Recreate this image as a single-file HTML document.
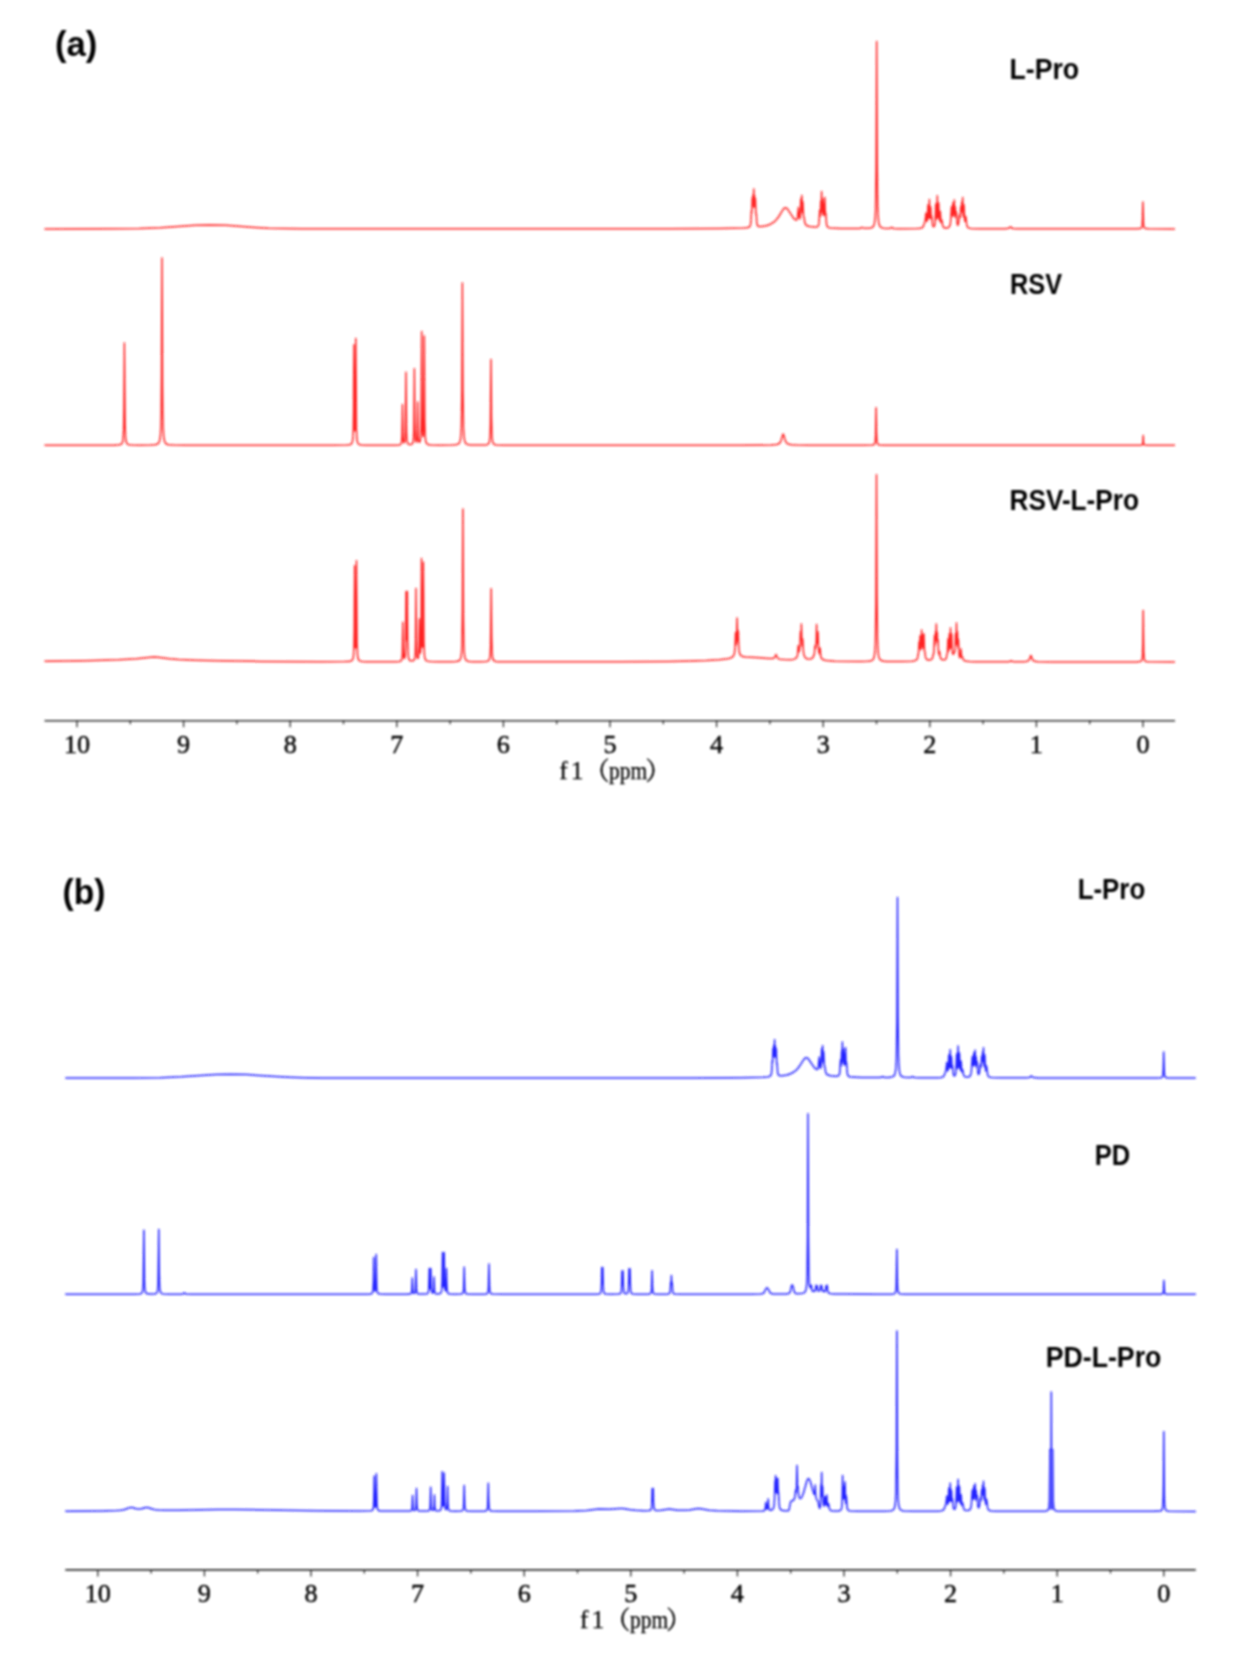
<!DOCTYPE html>
<html><head><meta charset="utf-8"><title>NMR spectra</title>
<style>
html,body{margin:0;padding:0;background:#fff;width:1251px;height:1654px;overflow:hidden}
svg{display:block}

path{fill:none;stroke-width:1.5;stroke-linejoin:round}

.ax{stroke:#303030;stroke-width:1.6}
.tk{stroke:#383838;stroke-width:1.4}
.tl{font-family:"Liberation Serif","Noto Serif CJK SC",serif;font-size:26.2px;text-anchor:middle;fill:#000;stroke:#000;stroke-width:0.45}
.xl{font-family:"Liberation Serif","Noto Serif CJK SC",serif;font-size:25.6px;fill:#000;stroke:#000;stroke-width:0.25}
.f1{letter-spacing:3px}
.pp{font-size:25px}
.cjk{font-family:"Liberation Serif","Noto Serif CJK SC",serif;font-size:25px;fill:#000;stroke:#000;stroke-width:0.5}
.lb{font-family:"Liberation Sans","Noto Sans CJK SC",sans-serif;font-weight:bold;font-size:29px;fill:#000}
</style></head><body>
<div id="wrap"><svg width="1251" height="1654" viewBox="0 0 1251 1654">
<rect width="1251" height="1654" fill="#fff"/>
<defs><filter id="bl" filterUnits="userSpaceOnUse" x="0" y="0" width="1251" height="1654"><feGaussianBlur stdDeviation="0.8"/></filter></defs>
<g filter="url(#bl)"><g transform="translate(0.5,0.5)">
<path d="M44.00,228.40 112.10,228.36 138.94,228.04 159.82,227.20 194.70,224.80 209.18,224.40 225.50,224.87 254.58,226.91 268.10,227.65 282.90,228.11 301.10,228.33 668.28,228.30 719.32,228.07 742.44,227.55 746.12,227.24 748.16,226.79 749.30,226.04 749.96,224.71 750.46,220.96 750.90,210.40 751.18,212.56 751.30,211.74 751.70,197.40 752.06,206.49 752.50,194.40 752.92,203.44 753.30,188.60 753.74,206.53 754.18,195.48 754.60,207.11 755.00,198.40 755.40,212.92 755.54,214.23 755.74,213.25 755.82,213.59 756.32,222.41 756.88,224.85 757.36,225.50 758.08,225.90 759.28,226.09 761.04,226.03 765.64,225.22 769.40,223.94 772.56,222.18 774.56,220.55 776.44,218.53 778.44,215.75 782.52,209.12 783.68,207.83 784.72,207.29 785.80,207.46 786.92,208.39 792.68,217.12 794.40,218.94 795.68,219.54 796.10,219.40 796.44,218.97 796.94,217.25 797.90,206.90 798.68,216.17 798.98,217.90 799.30,218.35 799.62,217.17 799.84,214.33 800.30,198.40 800.64,208.58 800.74,209.91 800.86,209.56 801.30,194.90 801.82,212.17 801.88,212.44 801.94,212.31 802.04,211.17 802.40,201.40 802.94,215.53 803.10,216.30 803.40,216.22 803.54,216.55 804.22,221.54 804.84,223.64 805.40,224.44 806.22,225.06 809.04,225.97 814.20,226.56 815.92,226.47 817.04,226.13 817.94,225.08 818.46,222.90 819.20,209.70 819.60,215.33 819.70,215.81 819.80,215.41 820.30,200.40 820.58,206.32 820.66,206.79 820.72,206.20 821.10,191.00 821.64,212.34 821.86,210.32 822.20,198.40 822.70,214.59 822.82,214.89 822.94,213.56 823.30,203.40 823.80,213.34 824.30,197.10 824.80,214.80 824.88,215.32 824.96,215.19 825.30,212.40 826.00,223.50 826.48,225.54 827.28,226.62 828.50,227.16 830.56,227.48 840.16,227.88 857.98,227.96 859.94,227.71 861.50,226.90 862.88,227.62 864.18,227.84 867.44,227.80 870.12,227.46 871.50,227.00 872.50,226.28 873.24,225.23 873.80,223.73 874.60,218.45 875.08,209.32 875.64,170.21 876.20,40.90 876.72,164.12 877.16,203.41 877.56,214.97 878.12,221.33 878.52,223.44 879.04,225.00 879.68,226.06 880.56,226.84 881.60,227.32 882.96,227.64 887.24,227.95 889.52,227.77 891.24,226.90 892.44,227.66 893.40,227.95 898.88,228.18 916.60,228.06 919.84,227.78 921.60,227.22 922.30,226.64 922.86,225.76 924.54,221.10 925.48,212.41 926.22,219.82 926.46,220.83 926.68,220.61 927.04,216.74 927.50,204.40 927.96,215.88 928.26,217.86 928.52,214.15 928.90,199.10 929.48,217.20 929.54,217.44 929.62,217.33 929.76,215.99 930.20,206.40 930.78,218.14 930.86,218.42 930.94,218.29 931.30,215.90 932.04,224.54 932.58,225.91 932.96,226.16 933.38,226.11 933.80,225.68 934.14,224.85 934.60,221.78 935.30,203.40 935.80,216.54 935.98,218.29 936.08,218.38 936.18,217.86 936.80,195.30 937.18,212.66 937.44,217.02 937.52,217.13 937.60,216.77 937.74,214.96 938.20,202.40 938.68,216.55 939.00,220.13 939.08,220.28 939.16,220.17 939.32,219.12 939.80,211.10 940.52,221.84 940.64,222.12 940.80,222.00 941.40,219.70 942.08,224.19 942.56,225.97 943.32,226.98 944.64,227.45 946.50,227.44 947.92,227.02 948.84,226.21 949.44,224.92 949.88,222.87 950.20,219.95 950.98,206.26 951.62,214.31 951.78,215.20 951.92,214.84 952.50,202.40 952.94,213.97 953.22,216.02 953.80,199.60 954.28,213.27 954.80,206.40 955.32,216.36 955.42,216.64 955.52,216.16 955.90,211.60 956.58,222.71 957.04,224.47 957.34,224.67 957.66,224.37 958.26,221.88 958.98,214.46 959.14,214.62 959.52,216.98 959.64,217.06 959.74,216.63 960.30,206.20 960.66,211.55 960.74,212.04 960.82,211.84 961.30,201.40 961.78,209.08 962.20,197.00 962.56,212.11 962.82,216.21 963.08,214.34 963.50,204.40 963.96,216.77 964.32,220.61 964.48,220.83 964.66,220.32 965.30,215.90 966.06,223.20 966.66,225.84 967.14,226.70 967.78,227.26 970.00,227.90 979.50,228.26 1004.92,228.24 1007.96,227.85 1010.00,226.40 1011.44,227.55 1012.44,227.97 1017.50,228.31 1128.00,228.37 1136.50,228.32 1139.40,228.12 1140.40,227.79 1141.00,227.20 1141.40,226.16 1141.68,224.39 1142.00,218.67 1142.40,201.40 1143.00,222.99 1143.40,226.16 1143.72,227.06 1144.16,227.63 1145.36,228.11 1148.00,228.31 1174.50,228.39" stroke="#ff2020"/>
<path d="M44.00,444.80 113.50,444.68 119.00,444.30 120.50,443.79 121.30,443.09 122.06,441.46 122.54,438.85 123.14,427.95 123.46,406.93 123.90,342.60 124.58,424.58 125.02,436.27 125.38,439.73 125.86,441.84 126.82,443.43 127.50,443.89 128.50,444.23 132.00,444.59 139.00,444.70 149.50,444.60 154.50,444.25 157.00,443.50 158.00,442.66 158.50,441.91 159.38,439.11 159.98,434.05 160.38,425.92 160.66,413.68 161.02,373.84 161.50,257.60 162.06,386.84 162.30,411.07 162.66,427.08 163.18,435.91 164.00,440.67 164.50,441.91 165.50,443.16 166.50,443.75 168.00,444.17 173.50,444.61 186.00,444.75 331.00,444.77 346.00,444.58 349.00,444.26 350.40,443.74 351.40,442.65 352.04,440.57 352.44,437.06 352.72,430.93 353.04,409.19 353.40,344.30 353.88,418.64 354.18,429.30 354.38,430.28 354.58,427.82 354.94,405.54 355.30,337.90 355.90,426.84 356.38,438.17 356.82,441.17 357.46,442.85 358.26,443.68 359.50,444.19 361.50,444.49 365.50,444.67 394.50,444.65 398.50,444.40 399.48,444.15 400.12,443.77 400.64,443.05 401.00,441.87 401.44,437.14 402.00,404.00 402.56,436.86 403.02,441.38 403.40,442.19 403.64,442.25 403.88,442.04 404.30,440.83 404.60,438.56 404.98,429.59 405.50,371.80 405.90,422.59 406.10,432.79 406.42,439.00 406.94,442.14 407.30,442.96 407.82,443.54 409.00,443.98 410.00,444.00 411.14,443.71 411.90,443.10 412.46,441.92 412.86,439.79 413.34,430.60 413.90,368.20 414.30,421.23 414.74,437.20 415.10,440.29 415.64,441.51 415.94,441.33 416.18,440.68 416.54,437.74 416.84,428.96 417.20,401.50 417.76,435.95 418.20,440.65 418.56,441.62 419.00,441.77 419.64,440.59 420.08,437.88 420.60,425.62 421.20,331.10 421.68,417.04 421.96,430.43 422.40,435.78 422.56,435.92 422.72,435.32 422.96,432.56 423.32,418.08 423.80,335.60 424.32,421.95 424.72,435.92 425.04,439.52 425.48,441.69 426.08,442.95 427.00,443.75 428.50,444.23 431.00,444.50 439.50,444.67 451.00,444.57 455.00,444.29 457.50,443.60 458.50,442.82 459.02,442.06 459.54,440.77 459.94,439.04 460.50,433.91 460.90,424.76 461.38,389.25 461.90,282.50 462.42,389.25 462.98,427.31 463.46,435.91 464.18,440.50 464.74,441.99 465.50,443.03 466.50,443.70 467.50,444.04 470.00,444.42 474.00,444.60 481.00,444.62 485.00,444.43 486.50,444.15 487.62,443.59 488.34,442.71 488.82,441.43 489.50,435.98 489.90,424.13 490.50,358.90 490.98,416.36 491.50,435.99 491.94,440.30 492.66,442.72 493.22,443.47 494.00,443.98 496.00,444.45 504.00,444.73 534.00,444.79 740.50,444.78 770.50,444.56 776.10,444.02 777.74,443.50 778.94,442.71 779.78,441.72 780.50,440.31 782.18,434.46 782.70,433.60 783.22,434.46 784.74,439.90 785.86,442.06 786.70,442.91 787.74,443.53 790.82,444.27 796.50,444.61 809.00,444.75 862.00,444.78 871.50,444.59 873.00,444.30 873.88,443.69 874.40,442.58 874.76,440.54 875.16,432.86 875.60,407.20 876.00,431.26 876.40,440.16 876.72,442.28 877.24,443.58 878.08,444.25 879.50,444.57 884.00,444.75 898.00,444.79 1139.70,444.75 1141.42,444.51 1142.06,443.73 1142.40,441.31 1142.70,435.10 1143.15,442.86 1143.49,444.07 1144.16,444.58 1148.00,444.78 1174.50,444.80" stroke="#ff2020"/>
<path d="M44.00,660.85 84.92,660.27 118.12,659.28 136.12,658.33 150.24,656.69 153.64,656.50 157.36,656.73 168.84,658.24 177.84,658.93 194.92,659.69 217.64,660.30 260.20,660.88 321.44,661.17 344.36,661.12 348.24,660.94 350.36,660.57 351.74,659.72 352.54,658.09 353.04,655.04 353.36,649.76 353.72,629.56 354.10,565.30 354.56,634.95 354.86,646.23 355.06,647.53 355.24,645.93 355.62,626.45 356.00,560.20 356.58,643.33 357.06,654.79 357.44,657.49 358.04,659.23 358.84,660.13 360.12,660.68 362.16,660.98 365.68,661.14 394.72,661.15 398.72,660.90 399.76,660.65 400.48,660.25 401.04,659.50 401.40,658.33 401.84,653.75 402.40,621.80 402.92,652.42 403.32,657.06 403.64,657.93 404.00,657.87 404.40,656.72 404.68,654.67 405.08,645.75 405.60,591.10 405.96,631.85 406.12,638.76 406.20,639.53 406.28,638.76 406.80,591.10 407.20,639.16 407.68,654.54 408.12,657.79 408.88,659.56 409.48,660.07 410.28,660.37 412.32,660.33 413.44,659.67 414.10,658.33 414.52,655.90 414.80,651.77 415.14,635.44 415.50,587.90 415.90,638.61 416.34,653.86 416.72,656.88 416.98,657.66 417.28,657.95 417.60,657.71 417.86,656.98 418.22,654.16 418.54,645.25 418.90,618.60 419.36,647.99 419.66,652.33 419.76,652.57 419.86,652.42 420.06,650.97 420.36,644.29 420.58,630.64 421.00,558.10 421.36,623.02 421.68,643.44 421.88,646.58 422.00,646.75 422.10,646.01 422.42,635.20 422.90,561.70 423.44,641.30 423.84,653.20 424.16,656.38 424.64,658.46 425.28,659.63 426.24,660.35 427.76,660.80 430.16,661.05 438.12,661.23 450.76,661.19 455.36,660.97 457.84,660.49 458.80,660.00 459.52,659.26 460.08,658.16 460.50,656.66 461.08,651.96 461.48,643.21 461.92,610.80 462.40,508.60 462.88,610.80 463.32,643.21 463.72,651.96 464.28,656.56 464.68,658.05 465.24,659.20 465.96,659.97 466.92,660.48 468.96,660.92 472.40,661.15 479.96,661.22 484.96,661.07 486.64,660.82 487.72,660.40 488.46,659.71 488.98,658.62 489.38,656.85 489.68,654.12 490.08,644.64 490.70,588.30 491.16,635.78 491.62,652.67 492.00,656.72 492.58,659.05 493.50,660.29 495.12,660.91 497.52,661.16 502.00,661.28 530.50,661.34 618.44,661.22 668.52,660.91 689.72,660.54 705.80,659.99 718.72,659.17 727.24,658.17 730.12,657.45 731.96,656.50 733.16,655.13 733.92,653.09 734.52,647.64 735.00,632.20 735.48,643.43 735.72,644.16 736.00,642.08 736.60,617.40 737.08,638.60 737.24,640.17 737.40,639.52 737.80,630.60 738.24,645.32 738.64,650.43 739.08,652.63 739.76,654.26 740.72,655.36 742.08,656.06 745.08,656.54 755.20,656.93 768.44,657.98 771.70,658.07 773.02,657.83 773.88,657.27 775.50,654.00 777.12,657.52 777.98,658.21 779.28,658.65 783.60,659.10 789.26,659.20 792.60,658.88 794.80,658.14 796.18,656.92 796.94,655.05 797.30,652.26 797.70,645.20 798.22,651.02 798.36,651.29 798.54,651.14 798.94,649.61 799.44,644.54 799.90,631.60 800.26,638.15 800.38,638.66 800.48,637.89 800.90,623.60 801.48,643.99 801.68,645.44 801.78,645.51 801.86,645.23 802.30,638.80 802.78,649.95 803.44,654.48 804.46,656.68 805.18,657.47 806.04,658.05 807.14,658.46 808.38,658.62 809.62,658.54 810.74,658.22 811.66,657.67 812.44,656.89 813.54,654.60 814.04,651.80 814.52,645.15 814.92,647.96 815.10,647.87 815.28,647.04 815.70,641.22 816.10,624.00 816.44,638.13 816.72,642.70 816.90,643.08 817.08,641.74 817.50,631.60 817.94,646.10 818.40,651.53 818.76,652.96 818.94,653.13 819.08,652.89 819.60,647.60 820.28,656.04 820.88,657.68 821.98,658.80 823.62,659.57 825.98,660.09 834.32,660.69 860.32,660.98 866.52,660.83 869.88,660.44 871.28,659.97 872.28,659.26 873.04,658.20 873.60,656.70 874.40,651.42 874.88,642.32 875.44,603.31 876.00,474.30 876.50,593.89 876.96,636.42 877.36,647.96 877.92,654.29 878.32,656.40 878.84,657.96 879.50,659.04 880.36,659.79 882.32,660.51 885.60,660.89 901.60,661.06 911.68,660.64 914.24,660.17 915.86,659.41 916.56,658.69 917.02,657.69 917.68,653.59 918.06,652.49 918.60,641.20 918.94,647.15 919.02,647.69 919.12,647.46 919.60,635.20 920.04,647.26 920.24,648.99 920.36,649.09 920.46,648.72 920.76,643.90 921.10,629.40 921.60,645.38 921.66,645.59 921.72,645.44 921.84,644.05 922.20,634.50 922.58,645.71 922.72,647.51 922.80,647.76 922.88,647.47 923.40,633.20 923.92,649.87 924.08,651.01 924.32,650.83 924.40,651.00 924.84,655.43 925.24,657.44 926.00,658.72 927.28,659.39 929.24,659.49 930.94,658.91 931.60,658.31 932.06,657.46 932.78,653.57 932.88,653.37 933.16,653.39 933.34,652.52 934.00,635.20 934.46,644.60 935.00,631.50 935.40,638.24 935.80,623.60 936.22,639.93 936.30,640.19 936.38,639.40 936.72,631.63 937.08,641.96 937.14,642.44 937.22,642.26 937.50,639.00 937.90,649.63 938.30,653.49 938.48,653.85 938.64,653.62 939.08,650.98 939.68,656.22 940.36,658.13 941.12,658.83 942.22,659.22 943.56,659.28 944.72,658.98 945.38,658.46 945.80,657.67 946.48,653.58 946.80,653.33 946.92,652.78 947.50,638.50 947.90,649.03 948.04,650.44 948.12,650.59 948.20,650.32 948.80,633.50 949.18,645.82 949.32,647.71 949.40,647.91 949.46,647.67 950.00,627.50 950.54,647.18 950.60,647.39 950.68,647.17 950.82,645.31 951.20,633.50 951.60,647.25 951.98,652.14 952.36,653.47 952.64,653.80 952.92,653.85 953.34,653.18 953.78,651.04 954.12,651.47 954.24,651.34 954.60,647.27 955.00,633.50 955.34,643.03 955.46,644.19 955.56,643.46 956.00,622.40 956.46,643.63 956.56,643.88 956.66,642.50 957.00,631.50 957.44,646.30 957.56,647.08 957.66,646.34 958.00,639.00 958.42,651.74 958.88,656.32 959.38,657.25 959.82,656.40 960.50,648.60 960.96,654.85 961.26,656.67 961.48,656.94 962.02,656.52 962.72,658.81 963.28,659.73 963.96,660.19 965.02,660.51 968.62,660.91 975.18,661.15 1004.00,661.33 1008.62,661.16 1010.70,660.30 1012.18,661.02 1013.74,661.25 1024.60,661.13 1026.88,660.73 1028.24,659.89 1029.00,658.69 1030.04,655.53 1030.40,655.00 1030.76,655.53 1031.84,658.78 1032.72,660.06 1034.32,660.86 1037.20,661.22 1052.00,661.40 1125.00,661.44 1136.00,661.38 1139.50,661.11 1140.62,660.65 1141.30,659.71 1141.74,657.87 1142.00,655.10 1142.34,643.56 1142.70,609.90 1143.22,650.99 1143.58,657.24 1143.86,658.95 1144.30,660.11 1144.78,660.65 1145.46,661.00 1148.00,661.33 1174.50,661.46" stroke="#ff2020"/>
<path d="M64.80,1077.50 132.90,1077.46 159.74,1077.16 180.62,1076.34 215.50,1074.03 229.98,1073.64 246.30,1074.10 275.38,1076.07 288.90,1076.77 303.70,1077.22 321.90,1077.43 689.08,1077.40 740.12,1077.19 763.24,1076.68 766.92,1076.38 768.96,1075.95 770.10,1075.23 770.76,1073.95 771.26,1070.33 771.70,1060.17 771.98,1062.24 772.10,1061.46 772.50,1047.65 772.86,1056.40 773.30,1044.76 773.72,1053.47 774.10,1039.17 774.54,1056.44 774.98,1045.80 775.40,1057.00 775.80,1048.61 776.20,1062.59 776.34,1063.85 776.54,1062.91 776.62,1063.24 777.12,1071.73 777.68,1074.08 778.16,1074.71 778.88,1075.09 780.08,1075.27 781.84,1075.22 786.44,1074.44 790.20,1073.21 793.36,1071.51 795.36,1069.94 797.24,1067.99 799.24,1065.32 803.32,1058.94 804.48,1057.69 805.52,1057.17 806.60,1057.34 807.72,1058.23 813.48,1066.64 815.20,1068.39 816.48,1068.97 816.90,1068.83 817.24,1068.42 817.74,1066.76 818.70,1056.79 819.48,1065.72 819.78,1067.39 820.10,1067.83 820.42,1066.69 820.64,1063.95 821.10,1048.61 821.44,1058.42 821.54,1059.69 821.66,1059.36 822.10,1045.24 822.62,1061.87 822.68,1062.13 822.74,1062.01 822.84,1060.91 823.20,1051.50 823.74,1065.11 823.90,1065.85 824.20,1065.77 824.34,1066.09 825.02,1070.90 825.64,1072.91 826.20,1073.69 827.02,1074.28 829.84,1075.16 835.00,1075.72 836.72,1075.64 837.84,1075.31 838.74,1074.30 839.26,1072.20 840.00,1059.49 840.40,1064.91 840.50,1065.38 840.60,1065.00 841.10,1050.54 841.38,1056.24 841.46,1056.69 841.52,1056.12 841.90,1041.48 842.44,1062.03 842.66,1060.09 843.00,1048.61 843.50,1064.21 843.62,1064.49 843.74,1063.21 844.10,1053.43 844.60,1063.00 845.10,1047.36 845.60,1064.41 845.76,1064.78 846.10,1062.09 846.80,1072.79 847.28,1074.75 848.08,1075.78 849.30,1076.30 851.36,1076.62 860.96,1077.00 878.78,1077.08 880.74,1076.83 882.30,1076.06 883.68,1076.75 884.98,1076.96 888.24,1076.93 890.92,1076.60 892.30,1076.15 893.30,1075.46 894.04,1074.45 894.60,1073.00 895.40,1067.91 895.88,1059.13 896.44,1021.47 897.00,896.94 897.52,1015.60 897.96,1053.44 898.36,1064.57 898.92,1070.69 899.32,1072.73 899.84,1074.23 900.48,1075.25 901.36,1076.00 903.76,1076.77 908.04,1077.07 910.32,1076.90 912.04,1076.06 913.24,1076.79 914.20,1077.07 919.68,1077.29 937.40,1077.18 940.64,1076.91 942.40,1076.36 943.10,1075.81 943.66,1074.96 945.34,1070.47 946.28,1062.10 947.02,1069.23 947.26,1070.21 947.48,1070.00 947.84,1066.27 948.30,1054.39 948.76,1065.44 949.06,1067.35 949.32,1063.77 949.70,1049.28 950.28,1066.72 950.34,1066.94 950.42,1066.84 950.56,1065.55 951.00,1056.31 951.58,1067.62 951.66,1067.89 951.74,1067.76 952.10,1065.46 952.84,1073.78 953.38,1075.10 953.76,1075.35 954.18,1075.29 954.60,1074.88 954.94,1074.08 955.40,1071.13 956.10,1053.43 956.60,1066.08 956.78,1067.76 956.88,1067.85 956.98,1067.35 957.60,1045.62 957.98,1062.34 958.24,1066.54 958.32,1066.65 958.40,1066.30 958.54,1064.56 959.00,1052.46 959.48,1066.09 959.80,1069.54 959.96,1069.58 960.12,1068.56 960.60,1060.84 961.32,1071.19 961.44,1071.46 961.60,1071.34 962.20,1069.12 962.88,1073.44 963.36,1075.16 964.12,1076.13 965.44,1076.58 967.30,1076.58 968.72,1076.17 969.64,1075.39 970.24,1074.15 970.68,1072.17 971.00,1069.36 971.78,1056.18 972.42,1063.93 972.58,1064.78 972.72,1064.44 973.30,1052.46 973.74,1063.60 974.02,1065.58 974.60,1049.77 975.08,1062.93 975.60,1056.31 976.12,1065.91 976.22,1066.17 976.32,1065.72 976.70,1061.32 977.38,1072.02 977.84,1073.72 978.14,1073.91 978.46,1073.62 979.06,1071.22 979.78,1064.07 979.94,1064.23 980.32,1066.50 980.44,1066.58 980.54,1066.17 981.10,1056.12 981.46,1061.28 981.54,1061.75 981.62,1061.55 982.10,1051.50 982.58,1058.89 983.00,1047.26 983.36,1061.82 983.62,1065.76 983.88,1063.96 984.30,1054.39 984.76,1066.30 985.12,1070.00 985.28,1070.21 985.46,1069.72 986.10,1065.46 986.86,1072.49 987.46,1075.04 987.94,1075.86 988.58,1076.40 990.80,1077.02 1000.30,1077.36 1025.72,1077.35 1028.76,1076.97 1030.80,1075.57 1032.24,1076.68 1033.24,1077.09 1038.30,1077.41 1148.80,1077.47 1157.30,1077.42 1160.20,1077.23 1161.20,1076.92 1161.80,1076.35 1162.20,1075.34 1162.48,1073.64 1162.80,1068.13 1163.20,1051.50 1163.80,1072.29 1164.20,1075.34 1164.52,1076.21 1164.96,1076.75 1166.16,1077.22 1168.80,1077.41 1195.30,1077.49" stroke="#2020ff"/>
<path d="M64.80,1293.80 133.80,1293.73 138.80,1293.51 140.30,1293.19 141.00,1292.80 141.68,1291.89 142.16,1290.24 142.72,1283.35 143.40,1229.80 143.92,1277.80 144.20,1285.88 144.68,1290.44 145.04,1291.69 145.56,1292.55 146.28,1293.07 147.30,1293.37 149.80,1293.58 152.80,1293.54 154.80,1293.28 155.78,1292.85 156.58,1291.85 157.06,1290.18 157.62,1283.20 158.30,1228.90 158.74,1273.19 159.22,1287.54 159.62,1290.59 160.26,1292.29 161.30,1293.14 163.30,1293.55 169.80,1293.74 180.80,1293.68 182.52,1293.37 183.80,1292.30 184.84,1293.23 185.68,1293.56 190.80,1293.77 356.30,1293.78 366.80,1293.70 370.20,1293.43 371.24,1293.02 371.84,1292.30 372.24,1291.03 372.52,1288.80 372.84,1280.81 373.20,1256.90 373.76,1286.52 374.22,1290.33 374.40,1290.59 374.58,1290.47 374.88,1289.27 375.32,1280.55 375.70,1254.10 376.30,1287.22 376.78,1291.41 377.18,1292.44 377.78,1293.06 379.80,1293.57 385.30,1293.74 406.30,1293.72 408.88,1293.61 410.12,1293.33 410.88,1292.49 411.28,1290.42 411.80,1277.60 412.40,1291.02 412.92,1292.68 413.40,1292.97 413.94,1292.85 414.34,1292.40 414.62,1291.61 414.98,1288.64 415.50,1269.00 415.94,1287.22 416.18,1290.50 416.62,1292.43 417.34,1293.23 418.80,1293.57 424.30,1293.60 426.76,1293.18 427.34,1292.75 427.74,1292.02 428.22,1289.09 428.80,1268.10 429.22,1285.32 429.44,1287.98 429.58,1288.23 429.70,1287.73 429.96,1283.18 430.30,1268.10 430.72,1286.17 430.94,1289.62 431.28,1291.56 431.68,1292.31 432.18,1292.46 432.58,1292.00 432.86,1290.91 433.14,1287.52 433.50,1276.50 433.90,1288.40 434.34,1292.02 434.74,1292.82 435.38,1293.24 436.46,1293.42 438.30,1293.36 439.64,1293.01 440.44,1292.29 440.94,1290.95 441.26,1288.64 441.62,1279.84 442.00,1251.90 442.38,1278.90 442.74,1286.21 442.90,1286.43 443.04,1285.57 443.28,1280.48 443.70,1251.90 444.10,1280.45 444.56,1289.07 444.80,1290.08 444.94,1290.26 445.08,1290.17 445.48,1287.60 446.00,1268.10 446.38,1285.17 446.76,1290.68 447.08,1292.02 447.60,1292.84 448.40,1293.28 449.80,1293.53 454.30,1293.69 459.80,1293.60 461.54,1293.25 462.38,1292.44 462.86,1290.71 463.18,1287.01 463.70,1266.70 464.26,1287.73 464.62,1291.17 465.30,1292.85 465.90,1293.28 466.80,1293.52 471.80,1293.74 483.80,1293.66 485.62,1293.46 486.62,1293.03 487.10,1292.45 487.46,1291.45 487.90,1287.71 488.50,1263.40 488.90,1282.85 489.30,1290.04 489.62,1291.75 490.14,1292.80 490.94,1293.34 492.30,1293.60 503.30,1293.78 585.30,1293.78 595.30,1293.70 598.62,1293.42 599.50,1293.04 600.06,1292.36 600.42,1291.25 600.66,1289.53 600.94,1284.15 601.30,1267.00 601.80,1282.91 602.30,1267.00 602.70,1285.35 603.10,1290.81 603.42,1292.09 603.90,1292.87 604.62,1293.30 605.80,1293.55 610.30,1293.71 617.30,1293.61 619.22,1293.32 620.18,1292.63 620.70,1291.16 621.02,1288.04 621.50,1270.50 621.98,1284.27 622.50,1270.50 622.90,1286.39 623.38,1291.48 623.86,1292.61 624.62,1293.12 626.02,1293.19 627.02,1292.67 627.62,1291.28 627.98,1288.16 628.50,1268.30 628.94,1283.15 629.18,1281.02 629.50,1268.30 629.86,1284.58 630.22,1290.39 630.54,1291.92 630.98,1292.75 631.66,1293.24 632.80,1293.52 637.30,1293.72 646.80,1293.68 649.08,1293.45 650.12,1292.85 650.68,1291.52 651.04,1288.54 651.60,1270.30 652.00,1285.32 652.32,1290.30 652.60,1291.84 653.00,1292.74 653.60,1293.26 654.56,1293.54 658.30,1293.72 665.80,1293.67 667.92,1293.43 668.94,1292.87 669.40,1291.95 669.70,1290.28 670.20,1281.80 670.46,1283.52 670.56,1283.20 670.90,1275.00 671.22,1282.97 671.34,1283.52 671.62,1281.95 672.26,1291.37 672.54,1292.34 672.94,1292.95 673.56,1293.34 674.52,1293.56 681.30,1293.76 717.80,1293.78 750.30,1293.72 759.40,1293.52 761.82,1293.18 763.20,1292.47 763.96,1291.40 764.98,1288.83 765.70,1288.24 766.50,1287.10 767.30,1288.24 768.04,1288.86 769.42,1292.03 770.06,1292.66 770.92,1293.07 772.68,1293.40 775.64,1293.56 785.72,1293.43 788.12,1293.00 788.82,1292.61 789.34,1292.03 790.00,1290.28 790.80,1285.80 791.70,1284.30 792.62,1285.87 793.64,1291.07 794.52,1292.46 795.56,1292.96 797.24,1293.17 799.96,1293.12 802.20,1292.79 803.44,1292.35 804.32,1291.70 804.98,1290.74 805.48,1289.33 806.16,1284.58 806.58,1275.84 807.06,1236.03 807.50,1113.30 807.94,1235.83 808.38,1273.96 808.70,1281.87 809.12,1285.84 809.40,1286.37 809.80,1285.30 810.36,1287.64 810.90,1284.80 811.46,1289.40 811.74,1290.33 812.10,1290.75 812.46,1290.76 813.16,1290.30 814.10,1290.83 814.62,1290.47 815.02,1289.02 815.52,1284.80 816.04,1287.92 816.62,1285.33 817.06,1288.95 817.44,1290.23 817.78,1290.46 819.12,1290.32 819.60,1289.02 820.10,1284.80 820.64,1287.98 821.22,1285.34 821.68,1289.31 822.10,1290.69 822.56,1290.91 823.40,1290.30 824.16,1291.07 824.52,1291.13 824.84,1290.72 825.08,1289.81 825.58,1285.34 826.16,1288.34 826.68,1284.79 827.20,1289.95 827.62,1291.74 828.48,1292.68 830.36,1293.14 834.76,1293.44 842.60,1293.62 876.30,1293.75 890.30,1293.67 892.80,1293.47 893.88,1293.15 894.68,1292.46 895.16,1291.30 895.72,1286.48 896.40,1249.00 896.80,1277.66 897.20,1288.26 897.52,1290.78 898.04,1292.33 898.88,1293.13 900.30,1293.52 905.30,1293.73 921.80,1293.78 1160.30,1293.70 1162.04,1293.30 1162.44,1292.84 1162.72,1292.01 1163.04,1289.01 1163.40,1280.00 1163.92,1291.00 1164.30,1292.72 1165.00,1293.44 1166.20,1293.68 1168.80,1293.77 1195.30,1293.80" stroke="#2020ff"/>
<path d="M64.80,1510.65 100.86,1510.43 116.30,1510.04 120.28,1509.71 123.26,1509.23 125.56,1508.56 129.02,1507.14 130.44,1506.90 131.74,1507.09 135.62,1508.30 138.38,1508.59 141.04,1508.33 145.22,1507.06 146.76,1506.91 148.06,1507.20 151.74,1508.57 154.26,1509.14 158.24,1509.55 164.06,1509.75 177.92,1509.72 217.24,1509.04 234.64,1508.93 316.84,1510.23 359.56,1510.51 370.08,1510.32 371.40,1510.01 372.18,1509.40 372.66,1508.28 372.96,1506.45 373.32,1499.10 373.70,1475.70 374.20,1502.30 374.58,1506.38 374.84,1506.73 375.10,1505.83 375.52,1497.97 375.90,1473.20 376.50,1504.36 376.98,1508.32 377.38,1509.30 378.00,1509.90 380.12,1510.40 385.60,1510.58 406.32,1510.61 409.12,1510.51 410.40,1510.25 411.16,1509.48 411.56,1507.61 412.10,1495.00 412.72,1508.16 412.96,1509.17 413.30,1509.75 413.82,1509.99 414.42,1509.86 414.82,1509.46 415.12,1508.70 415.48,1505.97 416.00,1487.90 416.44,1504.65 416.72,1507.96 417.16,1509.52 418.00,1510.25 419.72,1510.53 425.76,1510.56 428.24,1510.21 428.80,1509.81 429.20,1509.07 429.64,1506.30 430.20,1486.70 430.64,1504.29 430.84,1507.10 431.18,1508.91 431.66,1509.69 432.36,1509.85 432.88,1509.43 433.22,1508.40 433.54,1504.97 433.90,1494.60 434.28,1505.38 434.68,1508.91 435.04,1509.73 435.60,1510.16 436.60,1510.36 438.08,1510.32 439.38,1510.01 440.16,1509.34 440.64,1508.13 440.96,1505.97 441.32,1497.69 441.70,1471.30 442.10,1498.00 442.54,1505.35 442.74,1505.70 442.94,1504.97 443.24,1500.33 443.70,1472.60 444.12,1499.59 444.62,1507.32 445.04,1508.70 445.62,1509.11 446.12,1508.51 446.44,1506.93 446.74,1501.89 447.10,1486.10 447.46,1502.02 447.82,1507.64 448.12,1509.01 448.56,1509.79 449.26,1510.23 450.44,1510.47 455.00,1510.64 460.04,1510.54 461.60,1510.20 462.40,1509.41 462.88,1507.67 463.18,1504.27 463.70,1484.90 464.26,1504.97 464.62,1508.24 465.26,1509.81 465.86,1510.24 466.80,1510.49 471.04,1510.69 482.96,1510.64 484.88,1510.46 485.92,1510.05 486.40,1509.52 486.76,1508.60 487.20,1505.14 487.80,1482.70 488.20,1500.65 488.60,1507.29 488.92,1508.88 489.44,1509.85 490.24,1510.34 491.56,1510.58 498.64,1510.74 530.80,1510.74 573.58,1510.48 586.16,1509.92 597.94,1508.42 608.88,1508.83 619.60,1507.90 622.44,1508.08 629.86,1509.29 635.12,1509.83 643.26,1510.18 648.66,1510.04 649.66,1509.79 650.30,1509.32 650.72,1508.51 651.00,1507.20 651.34,1502.23 651.70,1487.90 652.16,1501.09 652.38,1499.09 652.70,1487.90 653.06,1502.21 653.34,1506.70 653.58,1508.13 653.94,1509.05 654.50,1509.60 655.34,1509.89 657.42,1510.00 660.58,1509.83 668.74,1508.60 677.02,1509.75 684.30,1509.84 689.10,1509.43 695.80,1508.20 698.10,1508.01 700.34,1508.22 708.46,1509.75 716.86,1510.37 740.70,1510.71 761.80,1510.52 763.58,1510.15 764.38,1509.26 764.80,1507.37 765.30,1501.90 765.94,1507.89 766.30,1508.70 766.54,1508.69 766.74,1508.40 767.20,1505.90 767.70,1498.40 768.18,1505.76 768.52,1508.19 769.16,1509.45 769.68,1509.70 770.40,1509.73 771.64,1509.33 772.56,1508.47 773.16,1507.17 773.58,1505.13 774.04,1498.66 774.48,1481.28 774.56,1480.51 774.80,1482.01 775.08,1475.35 775.64,1491.73 776.20,1477.90 776.56,1490.58 776.68,1492.62 776.76,1492.98 776.82,1492.75 777.32,1477.98 777.68,1489.88 778.02,1491.16 778.62,1503.96 779.24,1507.58 780.06,1509.01 781.40,1509.82 783.68,1510.26 787.08,1510.36 788.05,1510.09 788.60,1509.19 789.74,1502.83 790.25,1501.25 790.75,1500.72 792.84,1499.73 794.06,1498.00 794.56,1495.61 795.02,1489.85 795.36,1491.99 795.48,1492.07 795.60,1491.70 796.08,1485.28 796.50,1464.90 797.00,1485.79 797.18,1487.14 797.50,1485.90 797.98,1493.69 798.56,1496.50 799.28,1497.76 799.86,1498.03 800.68,1497.55 801.52,1496.32 803.06,1492.29 806.40,1480.31 807.36,1478.43 807.84,1478.09 808.28,1478.14 809.00,1478.99 809.76,1480.80 812.64,1491.28 813.68,1493.89 814.00,1493.78 814.24,1492.53 814.70,1484.53 815.10,1493.46 815.46,1496.89 816.00,1498.61 817.20,1500.23 817.60,1501.09 818.66,1506.72 819.10,1507.81 819.38,1507.59 819.62,1506.73 819.96,1503.38 820.48,1484.23 820.76,1488.35 820.88,1487.60 821.20,1472.01 821.64,1495.27 821.74,1496.20 821.86,1495.21 822.20,1485.91 822.62,1500.69 823.00,1505.07 823.16,1505.52 823.34,1505.54 823.68,1504.32 824.50,1495.92 825.20,1503.13 825.42,1504.23 825.54,1504.38 825.64,1504.22 826.30,1494.60 826.72,1502.99 827.00,1505.43 827.16,1505.79 827.34,1505.62 828.02,1502.93 828.94,1508.23 829.44,1509.31 830.16,1509.94 831.36,1510.32 833.30,1510.51 838.30,1510.38 840.02,1509.79 840.54,1509.25 840.90,1508.48 841.34,1506.13 841.62,1501.68 842.10,1474.90 842.66,1498.40 842.90,1496.36 843.30,1485.90 843.74,1496.99 843.86,1498.27 843.98,1498.14 844.50,1481.60 845.14,1502.34 845.30,1502.80 845.46,1501.91 845.90,1495.40 846.58,1506.70 847.02,1508.75 847.82,1509.88 848.78,1510.30 850.30,1510.55 858.30,1510.78 883.30,1510.72 888.30,1510.53 890.80,1510.19 891.80,1509.88 892.80,1509.27 893.64,1508.19 894.24,1506.55 894.96,1501.45 895.40,1492.39 895.92,1451.15 896.40,1330.40 896.84,1444.01 897.28,1487.71 897.64,1498.40 898.16,1504.45 898.96,1507.76 899.36,1508.53 900.30,1509.51 901.80,1510.14 903.80,1510.47 913.30,1510.77 936.30,1510.67 940.32,1510.40 942.36,1509.83 943.08,1509.27 943.64,1508.43 945.34,1503.87 946.28,1495.50 947.02,1502.65 947.26,1503.63 947.48,1503.42 947.84,1499.69 948.30,1487.79 948.76,1498.86 949.06,1500.77 949.32,1497.19 949.70,1482.68 950.28,1500.14 950.34,1500.36 950.42,1500.26 950.56,1498.97 951.00,1489.71 951.58,1501.03 951.66,1501.30 951.74,1501.18 952.10,1498.86 952.84,1507.21 953.38,1508.54 953.76,1508.78 954.18,1508.73 954.60,1508.31 954.94,1507.51 955.40,1504.55 956.10,1486.83 956.60,1499.50 956.78,1501.19 956.88,1501.28 956.98,1500.77 957.60,1479.02 957.98,1495.76 958.24,1499.96 958.32,1500.07 958.40,1499.72 958.54,1497.97 959.00,1485.86 959.44,1498.64 959.76,1502.79 959.84,1503.06 959.96,1503.00 960.12,1501.98 960.60,1494.24 961.32,1504.60 961.44,1504.87 961.60,1504.75 962.20,1502.52 963.20,1508.17 963.76,1509.23 964.68,1509.84 966.30,1510.07 968.36,1509.75 969.44,1509.05 970.16,1507.80 970.62,1505.96 970.98,1503.01 971.78,1489.58 972.42,1497.34 972.58,1498.20 972.72,1497.86 973.30,1485.86 973.74,1497.01 974.00,1499.05 974.24,1495.94 974.60,1483.17 975.08,1496.34 975.60,1489.71 976.12,1499.31 976.22,1499.58 976.32,1499.13 976.70,1494.72 977.38,1505.44 977.82,1507.11 978.12,1507.33 978.44,1507.07 979.06,1504.64 979.78,1497.47 979.94,1497.63 980.32,1499.91 980.44,1499.99 980.54,1499.58 981.10,1489.52 981.46,1494.68 981.54,1495.15 981.62,1494.96 982.10,1484.90 982.58,1492.30 983.00,1480.66 983.60,1499.09 983.86,1497.70 984.30,1487.79 984.76,1499.71 985.08,1503.25 985.26,1503.63 985.44,1503.22 986.10,1498.86 987.14,1507.44 987.80,1509.09 988.86,1509.97 991.30,1510.49 996.30,1510.72 1032.80,1510.83 1043.80,1510.65 1045.80,1510.40 1047.22,1509.80 1047.92,1508.86 1048.36,1507.31 1048.86,1500.66 1049.40,1449.00 1049.77,1490.86 1050.00,1496.86 1050.26,1493.66 1050.52,1470.57 1050.80,1391.40 1051.07,1470.57 1051.34,1493.66 1051.60,1496.86 1051.82,1490.86 1052.20,1449.00 1052.74,1500.66 1053.24,1507.32 1053.66,1508.84 1054.34,1509.77 1055.80,1510.41 1058.30,1510.68 1072.30,1510.86 1152.80,1510.84 1158.80,1510.62 1159.80,1510.44 1160.82,1510.00 1161.62,1508.99 1162.10,1507.25 1162.66,1499.41 1162.94,1483.23 1163.30,1431.20 1163.82,1494.70 1164.18,1504.37 1164.46,1507.00 1164.90,1508.80 1165.38,1509.64 1166.10,1510.19 1167.30,1510.54 1168.80,1510.71 1195.30,1510.88" stroke="#2020ff"/>
<rect x="1048.9" y="1449.6" width="3.8" height="59.5" fill="#5050ff"/>
<line x1="44.0" y1="720.2" x2="1174.5" y2="720.2" class="ax"/>
<line x1="1142.50" y1="720.2" x2="1142.50" y2="726.7" class="tk"/>
<text x="1142.50" y="752.4" class="tl">0</text>
<line x1="1089.20" y1="720.2" x2="1089.20" y2="723.7" class="tk"/>
<line x1="1035.90" y1="720.2" x2="1035.90" y2="726.7" class="tk"/>
<text x="1035.90" y="752.4" class="tl">1</text>
<line x1="982.60" y1="720.2" x2="982.60" y2="723.7" class="tk"/>
<line x1="929.30" y1="720.2" x2="929.30" y2="726.7" class="tk"/>
<text x="929.30" y="752.4" class="tl">2</text>
<line x1="876.00" y1="720.2" x2="876.00" y2="723.7" class="tk"/>
<line x1="822.70" y1="720.2" x2="822.70" y2="726.7" class="tk"/>
<text x="822.70" y="752.4" class="tl">3</text>
<line x1="769.40" y1="720.2" x2="769.40" y2="723.7" class="tk"/>
<line x1="716.10" y1="720.2" x2="716.10" y2="726.7" class="tk"/>
<text x="716.10" y="752.4" class="tl">4</text>
<line x1="662.80" y1="720.2" x2="662.80" y2="723.7" class="tk"/>
<line x1="609.50" y1="720.2" x2="609.50" y2="726.7" class="tk"/>
<text x="609.50" y="752.4" class="tl">5</text>
<line x1="556.20" y1="720.2" x2="556.20" y2="723.7" class="tk"/>
<line x1="502.90" y1="720.2" x2="502.90" y2="726.7" class="tk"/>
<text x="502.90" y="752.4" class="tl">6</text>
<line x1="449.60" y1="720.2" x2="449.60" y2="723.7" class="tk"/>
<line x1="396.30" y1="720.2" x2="396.30" y2="726.7" class="tk"/>
<text x="396.30" y="752.4" class="tl">7</text>
<line x1="343.00" y1="720.2" x2="343.00" y2="723.7" class="tk"/>
<line x1="289.70" y1="720.2" x2="289.70" y2="726.7" class="tk"/>
<text x="289.70" y="752.4" class="tl">8</text>
<line x1="236.40" y1="720.2" x2="236.40" y2="723.7" class="tk"/>
<line x1="183.10" y1="720.2" x2="183.10" y2="726.7" class="tk"/>
<text x="183.10" y="752.4" class="tl">9</text>
<line x1="129.80" y1="720.2" x2="129.80" y2="723.7" class="tk"/>
<line x1="76.50" y1="720.2" x2="76.50" y2="726.7" class="tk"/>
<text x="76.50" y="752.4" class="tl">10</text>
<text x="558.8" y="778.3" class="xl f1">f1</text>
<text x="584.0" y="779.5" class="cjk">（</text>
<text x="608.6" y="778.0" class="xl pp" textLength="38.2" lengthAdjust="spacingAndGlyphs">ppm</text>
<text x="644.9" y="779.5" class="cjk">）</text>
<line x1="64.8" y1="1569.4" x2="1195.3" y2="1569.4" class="ax"/>
<line x1="1163.30" y1="1569.4" x2="1163.30" y2="1575.9" class="tk"/>
<text x="1163.30" y="1601.6" class="tl">0</text>
<line x1="1110.00" y1="1569.4" x2="1110.00" y2="1572.9" class="tk"/>
<line x1="1056.70" y1="1569.4" x2="1056.70" y2="1575.9" class="tk"/>
<text x="1056.70" y="1601.6" class="tl">1</text>
<line x1="1003.40" y1="1569.4" x2="1003.40" y2="1572.9" class="tk"/>
<line x1="950.10" y1="1569.4" x2="950.10" y2="1575.9" class="tk"/>
<text x="950.10" y="1601.6" class="tl">2</text>
<line x1="896.80" y1="1569.4" x2="896.80" y2="1572.9" class="tk"/>
<line x1="843.50" y1="1569.4" x2="843.50" y2="1575.9" class="tk"/>
<text x="843.50" y="1601.6" class="tl">3</text>
<line x1="790.20" y1="1569.4" x2="790.20" y2="1572.9" class="tk"/>
<line x1="736.90" y1="1569.4" x2="736.90" y2="1575.9" class="tk"/>
<text x="736.90" y="1601.6" class="tl">4</text>
<line x1="683.60" y1="1569.4" x2="683.60" y2="1572.9" class="tk"/>
<line x1="630.30" y1="1569.4" x2="630.30" y2="1575.9" class="tk"/>
<text x="630.30" y="1601.6" class="tl">5</text>
<line x1="577.00" y1="1569.4" x2="577.00" y2="1572.9" class="tk"/>
<line x1="523.70" y1="1569.4" x2="523.70" y2="1575.9" class="tk"/>
<text x="523.70" y="1601.6" class="tl">6</text>
<line x1="470.40" y1="1569.4" x2="470.40" y2="1572.9" class="tk"/>
<line x1="417.10" y1="1569.4" x2="417.10" y2="1575.9" class="tk"/>
<text x="417.10" y="1601.6" class="tl">7</text>
<line x1="363.80" y1="1569.4" x2="363.80" y2="1572.9" class="tk"/>
<line x1="310.50" y1="1569.4" x2="310.50" y2="1575.9" class="tk"/>
<text x="310.50" y="1601.6" class="tl">8</text>
<line x1="257.20" y1="1569.4" x2="257.20" y2="1572.9" class="tk"/>
<line x1="203.90" y1="1569.4" x2="203.90" y2="1575.9" class="tk"/>
<text x="203.90" y="1601.6" class="tl">9</text>
<line x1="150.60" y1="1569.4" x2="150.60" y2="1572.9" class="tk"/>
<line x1="97.30" y1="1569.4" x2="97.30" y2="1575.9" class="tk"/>
<text x="97.30" y="1601.6" class="tl">10</text>
<text x="579.6" y="1627.5" class="xl f1">f1</text>
<text x="604.8" y="1628.7" class="cjk">（</text>
<text x="629.4" y="1627.2" class="xl pp" textLength="38.2" lengthAdjust="spacingAndGlyphs">ppm</text>
<text x="665.7" y="1628.7" class="cjk">）</text>
<text x="54.4" y="55.0" class="lb" style="font-size:35.5px" textLength="42.4" lengthAdjust="spacingAndGlyphs">(a)</text>
<text x="1009.0" y="78.6" class="lb" style="font-size:29.5px" textLength="69.6" lengthAdjust="spacingAndGlyphs">L-Pro</text>
<text x="1009.6" y="293.8" class="lb" style="font-size:29.5px" textLength="52.0" lengthAdjust="spacingAndGlyphs">RSV</text>
<text x="1009.0" y="509.7" class="lb" style="font-size:29.5px" textLength="129.5" lengthAdjust="spacingAndGlyphs">RSV-L-Pro</text>
<text x="62.0" y="903.3" class="lb" style="font-size:35.2px" textLength="43.0" lengthAdjust="spacingAndGlyphs">(b)</text>
<text x="1077.2" y="898.2" class="lb" style="font-size:29.5px" textLength="67.5" lengthAdjust="spacingAndGlyphs">L-Pro</text>
<text x="1094.3" y="1164.6" class="lb" style="font-size:29.5px" textLength="35.4" lengthAdjust="spacingAndGlyphs">PD</text>
<text x="1045.3" y="1366.8" class="lb" style="font-size:29.5px" textLength="115.5" lengthAdjust="spacingAndGlyphs">PD-L-Pro</text>
</g></g>
</svg></div>
</body></html>
